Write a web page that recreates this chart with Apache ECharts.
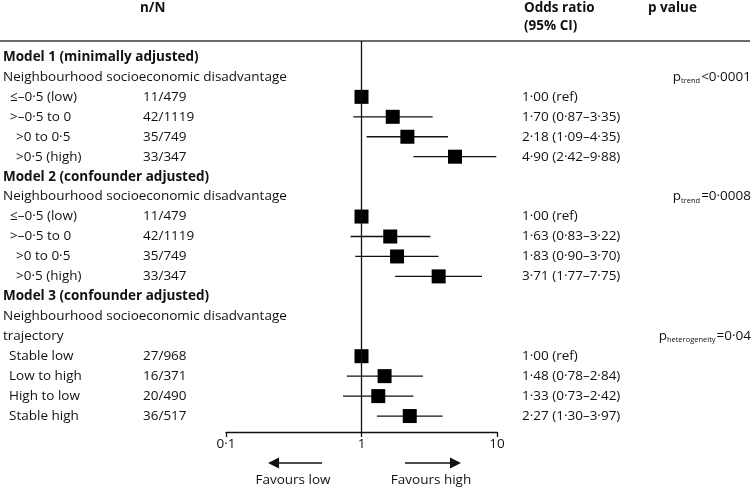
<!DOCTYPE html>
<html>
<head>
<meta charset="utf-8">
<script src="https://cdn.jsdelivr.net/npm/echarts@6/dist/echarts.min.js"></script>
<style>html,body{margin:0;padding:0;background:#fff;}#c{width:754px;height:489px;}</style>
</head>
<body>
<div id="c"></div>
<script>
// ---- data ----
const rowLabels = [
  "Model 1 (minimally adjusted)", "Neighbourhood socioeconomic disadvantage",
  "≤–0·5 (low)", ">–0·5 to 0", ">0 to 0·5", ">0·5 (high)",
  "Model 2 (confounder adjusted)", "Neighbourhood socioeconomic disadvantage",
  "≤–0·5 (low)", ">–0·5 to 0", ">0 to 0·5", ">0·5 (high)",
  "Model 3 (confounder adjusted)", "Neighbourhood socioeconomic disadvantage", "trajectory",
  "Stable low", "Low to high", "High to low", "Stable high"
];
const rowKinds = ["h","s","a","a","b","b","h","s","a","a","b","b","h","s","s","c","c","c","c"];
const nN = ["","","11/479","42/1119","35/749","33/347","","","11/479","42/1119","35/749","33/347","","","","27/968","16/371","20/490","36/517"];
const oddsRatio = [null,null,1.00,1.70,2.18,4.90,null,null,1.00,1.63,1.83,3.71,null,null,null,1.00,1.48,1.33,2.27];
const ciLow  = [null,null,null,0.87,1.09,2.42,null,null,null,0.83,0.90,1.77,null,null,null,null,0.78,0.73,1.30];
const ciHigh = [null,null,null,3.35,4.35,9.88,null,null,null,3.22,3.70,7.75,null,null,null,null,2.84,2.42,3.97];
const orText = ["","","1·00 (ref)","1·70 (0·87–3·35)","2·18 (1·09–4·35)","4·90 (2·42–9·88)","","","1·00 (ref)","1·63 (0·83–3·22)","1·83 (0·90–3·70)","3·71 (1·77–7·75)","","","","1·00 (ref)","1·48 (0·78–2·84)","1·33 (0·73–2·42)","2·27 (1·30–3·97)"];
const pSub = ["","trend","","","","","","trend","","","","","","","heterogeneity","","","","",""];
const pVal = ["","<0·0001","","","","","","=0·0008","","","","","","","=0·04","","","","",""];
const xTicks = [0.1, 1, 10];

// ---- chart ----
const FONT = "Open Sans";
const FS = 13.5;
const INK = "#111";
const rowIdx = rowLabels.map((_, i) => String(i));

const squares = [], ciSegs = [];
oddsRatio.forEach((v, i) => { if (v != null) squares.push([v, i]); });
ciLow.forEach((v, i) => { if (v != null) ciSegs.push([v, ciHigh[i], i]); });

const chart = echarts.init(document.getElementById('c'), null, {renderer: 'canvas'});
const txt = {fontFamily: FONT, fontSize: FS, color: INK};

chart.setOption({
  animation: false,
  backgroundColor: '#fff',
  grid: [
    {left: 226, right: 257, top: 41, bottom: 57, containLabel: false},
    {left: 226, right: 257, top: 47, height: 379, containLabel: false}
  ],
  xAxis: [
    {
      gridIndex: 0, type: 'log', logBase: 10, min: xTicks[0], max: xTicks[xTicks.length - 1], position: 'bottom',
      axisLine: {show: true, onZero: false, lineStyle: {color: INK, width: 1.3}},
      axisTick: {show: true, length: 5, lineStyle: {color: INK, width: 1.3}},
      minorTick: {show: false}, splitLine: {show: false},
      axisLabel: Object.assign({margin: 5, formatter: v => String(v).replace('.', '·')}, txt)
    },
    {gridIndex: 1, type: 'value', min: 0, max: 1, show: false}
  ],
  yAxis: [
    {gridIndex: 0, type: 'value', inverse: true, min: -0.8, max: 18.8, show: false},
    {
      gridIndex: 1, type: 'category', inverse: true, data: rowIdx, position: 'left',
      axisLine: {show: false}, axisTick: {show: false},
      axisLabel: {
        interval: 0, align: 'left', margin: 226,
        formatter: (v, i) => '{' + rowKinds[i] + '|' + rowLabels[i] + '}',
        rich: {
          h: Object.assign({fontWeight: 'bold', padding: [0, 0, 0, -1]}, txt),
          s: Object.assign({padding: [0, 0, 0, -1]}, txt),
          a: Object.assign({padding: [0, 0, 0, 6]}, txt),
          b: Object.assign({padding: [0, 0, 0, 12]}, txt),
          c: Object.assign({padding: [0, 0, 0, 5]}, txt)
        }
      }
    },
    {
      gridIndex: 1, type: 'category', inverse: true, data: rowIdx, position: 'left',
      axisLine: {show: false}, axisTick: {show: false},
      axisLabel: Object.assign({interval: 0, align: 'left', margin: 87, formatter: (v, i) => nN[i]}, txt)
    },
    {
      gridIndex: 1, type: 'category', inverse: true, data: rowIdx, position: 'right',
      axisLine: {show: false}, axisTick: {show: false},
      axisLabel: Object.assign({interval: 0, align: 'left', margin: 27, formatter: (v, i) => orText[i]}, txt)
    },
    {
      gridIndex: 1, type: 'category', inverse: true, data: rowIdx, position: 'right',
      axisLine: {show: false}, axisTick: {show: false},
      axisLabel: {
        interval: 0, align: 'right', margin: 256,
        formatter: (v, i) => pVal[i] ? '{p|p}{s|' + pSub[i] + '}{p|' + pVal[i] + '}' : '',
        rich: {
          p: Object.assign({lineHeight: 16}, txt),
          s: {fontFamily: FONT, fontSize: 7.5, color: INK, lineHeight: 8, verticalAlign: 'bottom', padding: [0, 1, 0, 0]}
        }
      }
    }
  ],
  series: [
    {
      type: 'custom', xAxisIndex: 0, yAxisIndex: 0, data: ciSegs, z: 2,
      renderItem: (params, api) => {
        const a = api.coord([api.value(0), api.value(2)]);
        const b = api.coord([api.value(1), api.value(2)]);
        return {type: 'line', shape: {x1: a[0], y1: a[1], x2: b[0], y2: b[1]},
                style: {stroke: INK, lineWidth: 1.3}};
      }
    },
    {
      type: 'scatter', xAxisIndex: 0, yAxisIndex: 0, data: squares, z: 3,
      symbol: 'rect', symbolSize: 14, itemStyle: {color: '#000', opacity: 1},
      markLine: {
        silent: true, symbol: 'none', label: {show: false},
        lineStyle: {color: INK, width: 1.3, type: 'solid'},
        data: [{xAxis: 1}]
      }
    }
  ],
  graphic: [
    {type: 'line', shape: {x1: 0, y1: 41, x2: 750, y2: 41}, style: {stroke: '#3a3a3a', lineWidth: 1.5}},
    {type: 'text', x: 140, y: 8, style: {text: 'n/N', fontFamily: FONT, fontSize: FS, fontWeight: 'bold', fill: INK, align: 'left', verticalAlign: 'middle'}},
    {type: 'text', x: 524, y: 8, style: {text: 'Odds ratio', fontFamily: FONT, fontSize: FS, fontWeight: 'bold', fill: INK, align: 'left', verticalAlign: 'middle'}},
    {type: 'text', x: 524, y: 26, style: {text: '(95% CI)', fontFamily: FONT, fontSize: FS, fontWeight: 'bold', fill: INK, align: 'left', verticalAlign: 'middle'}},
    {type: 'text', x: 648, y: 8, style: {text: 'p value', fontFamily: FONT, fontSize: FS, fontWeight: 'bold', fill: INK, align: 'left', verticalAlign: 'middle'}},
    {type: 'line', shape: {x1: 277, y1: 463, x2: 322, y2: 463}, style: {stroke: INK, lineWidth: 1.3}},
    {type: 'polygon', shape: {points: [[268, 463], [279, 457.5], [279, 468.5]]}, style: {fill: INK}},
    {type: 'line', shape: {x1: 405, y1: 463, x2: 452, y2: 463}, style: {stroke: INK, lineWidth: 1.3}},
    {type: 'polygon', shape: {points: [[461, 463], [450, 457.5], [450, 468.5]]}, style: {fill: INK}},
    {type: 'text', x: 293, y: 480, style: {text: 'Favours low', fontFamily: FONT, fontSize: FS, fill: INK, align: 'center', verticalAlign: 'middle'}},
    {type: 'text', x: 431, y: 480, style: {text: 'Favours high', fontFamily: FONT, fontSize: FS, fill: INK, align: 'center', verticalAlign: 'middle'}}
  ]
});
</script>
</body>
</html>
